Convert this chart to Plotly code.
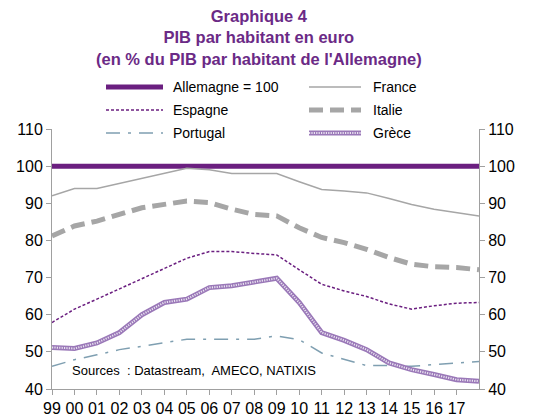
import plotly.graph_objects as go

years = list(range(1999, 2019))
tick_labels = ["99", "00", "01", "02", "03", "04", "05", "06", "07", "08", "09",
               "10", "11", "12", "13", "14", "15", "16", "17"]

allemagne = [100] * 20
france = [92.0, 94.0, 94.0, 95.3, 96.6, 98.0, 99.4, 99.0, 98.0, 98.0, 98.0,
          95.8, 93.7, 93.3, 92.8, 91.3, 89.7, 88.4, 87.5, 86.6]
espagne = [57.9, 61.5, 64.2, 66.9, 69.8, 72.5, 75.2, 77.0, 77.0, 76.5, 76.1,
           72.1, 68.2, 66.4, 64.9, 62.9, 61.5, 62.4, 63.1, 63.3]
italie = [81.2, 83.9, 85.2, 87.0, 88.8, 89.7, 90.6, 90.2, 88.4, 87.0, 86.6,
          83.4, 80.8, 79.4, 77.6, 75.4, 73.6, 72.9, 72.7, 72.1]
portugal = [46.1, 47.9, 49.2, 50.6, 51.5, 52.4, 53.4, 53.4, 53.4, 53.4, 54.3,
            53.3, 49.7, 47.9, 46.3, 46.3, 46.1, 46.6, 47.0, 47.4]
grece = [51.2, 50.9, 52.4, 55.2, 60.0, 63.3, 64.2, 67.3, 67.8, 68.9, 69.8,
         63.3, 55.2, 53.1, 50.6, 47.0, 45.2, 43.9, 42.5, 42.1]

FONT = "Liberation Sans, Arial, sans-serif"
PURPLE = "#6b1f80"
GRAY = "#a6a6a6"
GREECE = "#9a78b8"
GREECE_DOTS = "rgba(255,255,255,0.8)"

W, H = 555, 419
ML, MR, MT, MB = 52, 76, 129, 30
PW, PH = W - ML - MR, H - MT - MB


def px_x(px):
    return (px - ML) / PW


def px_y(py):
    return (H - MB - py) / PH


series = [
    ("Allemagne = 100", allemagne, dict(color=PURPLE, width=5)),
    ("France", france, dict(color=GRAY, width=1.5)),
    ("Espagne", espagne, dict(color=PURPLE, width=1.5, dash="3px,2px")),
    ("Italie", italie, dict(color=GRAY, width=5, dash="14px,7px")),
    ("Portugal", portugal, dict(color="#7f9fb1", width=1.5, dash="14px,8px,3px,8px")),
    ("Grèce", grece, dict(color=GREECE, width=5)),
]

fig = go.Figure()
for name, vals, line in series:
    fig.add_trace(go.Scatter(x=years, y=vals, name=name, mode="lines", line=line,
                             showlegend=False))
fig.add_trace(go.Scatter(x=years, y=grece, showlegend=False, mode="lines", hoverinfo="skip",
                         line=dict(color=GREECE_DOTS, width=2, dash="1.2px,1.2px")))
# invisible trace to activate right axis
fig.add_trace(go.Scatter(x=years, y=allemagne, yaxis="y2", showlegend=False, mode="lines",
                         hoverinfo="skip", line=dict(color="rgba(0,0,0,0)", width=0)))

# manual legend (2 columns x 3 rows)
shapes = []
annotations = []
legend_pos = [(106, 163, 171, 87), (309, 361, 371, 87),
              (106, 163, 171, 110), (309, 361, 371, 110),
              (106, 163, 171, 133), (309, 361, 371, 133)]
for (name, _, line), (x0, x1, xt, yy) in zip(series, legend_pos):
    shapes.append(dict(type="line", xref="paper", yref="paper",
                       x0=px_x(x0), x1=px_x(x1), y0=px_y(yy), y1=px_y(yy),
                       line=dict(color=line["color"], width=line["width"],
                                 dash=line.get("dash", "solid"))))
    if name == "Grèce":
        shapes.append(dict(type="line", xref="paper", yref="paper",
                           x0=px_x(x0), x1=px_x(x1), y0=px_y(yy), y1=px_y(yy),
                           line=dict(color=GREECE_DOTS, width=2, dash="1.2px,1.2px")))
    annotations.append(dict(text=name, xref="paper", yref="paper", x=px_x(xt), y=px_y(yy),
                            xanchor="left", yanchor="middle", showarrow=False,
                            font=dict(family=FONT, size=14, color="#000000")))

annotations.append(dict(
    text="<b>Graphique 4<br>PIB par habitant en euro<br>(en % du PIB par habitant de l'Allemagne)</b>",
    xref="paper", yref="paper", x=px_x(259), y=px_y(5), xanchor="center", yanchor="top",
    showarrow=False, align="center", font=dict(family=FONT, size=16.5, color="#6b2a86")))
annotations.append(dict(
    text="Sources  : Datastream,  AMECO, NATIXIS", xref="paper", yref="paper",
    x=px_x(70), y=px_y(370), xanchor="left", yanchor="middle", showarrow=False,
    font=dict(family=FONT, size=13, color="#000000")))

axis_common = dict(range=[40, 110], tickvals=[40, 50, 60, 70, 80, 90, 100, 110],
                   showgrid=False, zeroline=False, showline=True, linecolor="#a0a0a0",
                   linewidth=1, ticks="outside", ticklen=5, tickcolor="#a0a0a0",
                   tickfont=dict(family=FONT, size=16, color="#000000"))

fig.update_layout(
    width=W, height=H,
    margin=dict(l=ML, r=MR, t=MT, b=MB, autoexpand=False),
    paper_bgcolor="white", plot_bgcolor="white",
    showlegend=False,
    xaxis=dict(range=[1999, 2018], tickvals=years[:-1], ticktext=tick_labels,
               showgrid=False, zeroline=False, showline=True, linecolor="#a0a0a0",
               ticks="outside", ticklen=5, tickcolor="#a0a0a0",
               tickfont=dict(family=FONT, size=16, color="#000000")),
    yaxis=dict(**axis_common),
    yaxis2=dict(**axis_common, overlaying="y", side="right", anchor="x"),
    shapes=shapes,
    annotations=annotations,
)

fig.write_html("out.html", config={"displayModeBar": False},
               post_script="document.body.style.margin='0';document.body.style.overflow='hidden';")
